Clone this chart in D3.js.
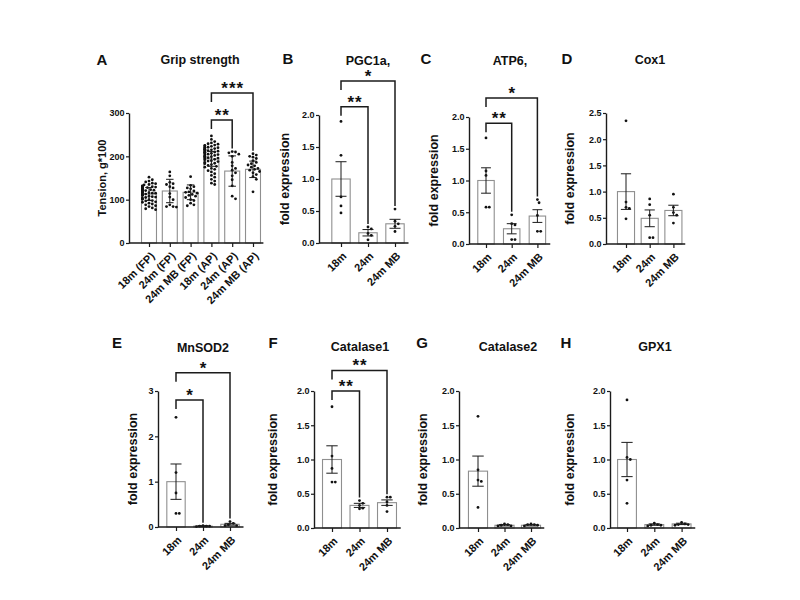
<!DOCTYPE html>
<html>
<head>
<meta charset="utf-8">
<script src="https://cdn.jsdelivr.net/npm/d3@7"></script>
<style>
  body { margin: 0; background: #fff; }
  text { font-family: Arial, "Liberation Sans", sans-serif; font-weight: bold; fill: #111; }
</style>
</head>
<body>
<svg id="fig" width="800" height="600"></svg>
<script>
// ---- data ----
const gripGroups = ["18m (FP)", "24m (FP)", "24m MB (FP)", "18m (AP)", "24m (AP)", "24m MB (AP)"];
const gripMeans = [113, 120, 117, 194, 166, 170];
const gripSD = [15, 27, 17, 17, 35, 19];
const gripPoints = [
  [152,146,143,141,138,137,135,134,132,131,130,129,128,128,127,126,125,124,124,123,122,121,121,120,119,118,118,117,116,115,115,114,113,112,111,110,110,108,107,106,105,104,102,101,100,98,97,95,94,92,90,88,86,84,81,79,77],
  [164,155,140,137,135,130,127,114,106,100,88,84,84,83],
  [153,133,130,127,125,120,118,117,115,112,110,108,105,100,98,92,88,86],
  [247,239,234,231,229,228,226,225,224,223,221,221,220,219,218,217,216,216,215,214,213,212,211,210,209,209,208,207,206,205,204,203,202,201,200,199,198,197,196,195,193,192,190,189,188,186,184,183,181,179,177,175,172,170,167,164,160,156,152,147,143,138,135],
  [211,210,208,205,200,186,178,172,168,162,155,146,132,108,102],
  [206,203,200,198,195,190,186,183,180,178,175,172,170,168,165,162,158,153,147,118]
];
const gripSig = [[3, 5, 346, "***"], [3, 4, 284, "**"]];

const ageGroups = ["18m", "24m", "24m MB"];

const pgcMeans = [1.0, 0.16, 0.30];
const pgcSem = [0.27, 0.05, 0.07];
const pgcPoints = [[1.9,1.37,0.72,0.58,0.47],[0.25,0.22,0.15,0.12,0.05],[0.53,0.34,0.3,0.26,0.18]];
const pgcSig = [[0, 2, 2.53, "*"], [0, 1, 2.13, "**"]];

const atpMeans = [1.0, 0.24, 0.44];
const atpSem = [0.2, 0.08, 0.1];
const atpPoints = [[1.67,1.15,1.08,0.58,0.58],[0.46,0.32,0.3,0.07,0.07],[0.7,0.65,0.45,0.2,0.2]];
const atpSig = [[0, 2, 2.3, "*"], [0, 1, 1.9, "**"]];

const coxMeans = [1.0, 0.49, 0.64];
const coxSem = [0.34, 0.16, 0.1];
const coxPoints = [[2.35,0.8,0.7,0.68,0.48],[0.86,0.75,0.55,0.12,0.12],[0.95,0.7,0.6,0.55,0.4]];

const sodMeans = [1.0, 0.02, 0.06];
const sodSem = [0.39, 0.01, 0.02];
const sodPoints = [[2.42,1.2,0.75,0.3,0.3],[0.03,0.02,0.02,0.01,0.02],[0.12,0.08,0.05,0.03,0.03]];
const sodSig = [[0, 2, 3.4, "*"], [0, 1, 2.8, "*"]];

const cat1Means = [1.0, 0.33, 0.37];
const cat1Sem = [0.2, 0.03, 0.04];
const cat1Points = [[1.77,1.05,0.87,0.67,0.67],[0.4,0.36,0.33,0.29,0.28],[0.45,0.45,0.38,0.33,0.24]];
const cat1Sig = [[0, 2, 2.3, "**"], [0, 1, 2.0, "**"]];

const cat2Means = [0.83, 0.04, 0.04];
const cat2Sem = [0.22, 0.01, 0.01];
const cat2Points = [[1.63,0.85,0.7,0.68,0.3],[0.06,0.05,0.04,0.03,0.03],[0.06,0.05,0.05,0.04,0.03]];

const gpxMeans = [1.0, 0.05, 0.06];
const gpxSem = [0.25, 0.01, 0.01];
const gpxPoints = [[1.87,1.03,1.0,0.7,0.36],[0.07,0.05,0.04,0.03,0.04],[0.08,0.06,0.05,0.05,0.04]];

// ---- panel layout ----
const f1 = d3.format(".1f"), f0 = d3.format("d");
const panels = [
  {letter:"A", title:"Grip strength", ylab:"Tension, g*100", cats:gripGroups, means:gripMeans, err:gripSD, pts:gripPoints, sig:gripSig,
   yMax:300, ticks:[0,100,200,300], fmt:f0, axisX:129, first:149, step:20.8, y0:243, yTop:113, labelX:102, labelSize:11,
   letterPos:[102,65], titlePos:[200,64], barFrac:0.72, capFrac:0.5},
  {letter:"B", title:"PGC1a,", ylab:"fold expression", cats:ageGroups, means:pgcMeans, err:pgcSem, pts:pgcPoints, sig:pgcSig,
   yMax:2, ticks:[0,0.5,1,1.5,2], fmt:f1, axisX:319, first:341, step:27, y0:243, yTop:115, labelX:285, labelSize:12.5,
   letterPos:[288,63.5], titlePos:[368,65], barFrac:0.68, capFrac:0.6},
  {letter:"C", title:"ATP6,", ylab:"fold expression", cats:ageGroups, means:atpMeans, err:atpSem, pts:atpPoints, sig:atpSig,
   yMax:2, ticks:[0,0.5,1,1.5,2], fmt:f1, axisX:469, first:486, step:25.7, y0:244, yTop:117, labelX:434, labelSize:12.5,
   letterPos:[426,64], titlePos:[510,65], barFrac:0.64, capFrac:0.6},
  {letter:"D", title:"Cox1", ylab:"fold expression", cats:ageGroups, means:coxMeans, err:coxSem, pts:coxPoints, sig:[],
   yMax:2.5, ticks:[0,0.5,1,1.5,2,2.5], fmt:f1, axisX:606, first:626, step:23.7, y0:244, yTop:113, labelX:570, labelSize:12.5,
   letterPos:[567,64], titlePos:[650,64], barFrac:0.72, capFrac:0.6},
  {letter:"E", title:"MnSOD2", ylab:"fold expression", cats:ageGroups, means:sodMeans, err:sodSem, pts:sodPoints, sig:sodSig,
   yMax:3, ticks:[0,1,2,3], fmt:f0, axisX:158, first:176, step:27, y0:527, yTop:391, labelX:133, labelSize:12.5,
   letterPos:[117,348], titlePos:[203,352], barFrac:0.68, capFrac:0.6},
  {letter:"F", title:"Catalase1", ylab:"fold expression", cats:ageGroups, means:cat1Means, err:cat1Sem, pts:cat1Points, sig:cat1Sig,
   yMax:2, ticks:[0,0.5,1,1.5,2], fmt:f1, axisX:314, first:332, step:27.5, y0:528, yTop:391, labelX:273, labelSize:12.5,
   letterPos:[273,348], titlePos:[360,351], barFrac:0.69, capFrac:0.6},
  {letter:"G", title:"Catalase2", ylab:"fold expression", cats:ageGroups, means:cat2Means, err:cat2Sem, pts:cat2Points, sig:[],
   yMax:2, ticks:[0,0.5,1,1.5,2], fmt:f1, axisX:459, first:478, step:26.5, y0:528, yTop:391, labelX:423, labelSize:12.5,
   letterPos:[422,348], titlePos:[508,351], barFrac:0.72, capFrac:0.6},
  {letter:"H", title:"GPX1", ylab:"fold expression", cats:ageGroups, means:gpxMeans, err:gpxSem, pts:gpxPoints, sig:[],
   yMax:2, ticks:[0,0.5,1,1.5,2], fmt:f1, axisX:610, first:627, step:27.3, y0:528, yTop:391, labelX:570, labelSize:12.5,
   letterPos:[566,348], titlePos:[655,351], barFrac:0.69, capFrac:0.6}
];

const svg = d3.select("#fig");
const ink = "#1b1b1b";

// simple beeswarm so equal values sit side by side
function swarm(vals, y, r, maxOff) {
  const d = 2 * r + 0.5;
  const placed = [];
  const out = new Array(vals.length);
  vals.map((v, i) => ({ i, py: y(v) }))
    .sort((a, b) => a.py - b.py)
    .forEach(o => {
      let pick = 0;
      for (let k = 0; k < 30; k++) {
        const off = (k % 2 ? 1 : -1) * Math.ceil(k / 2) * d * 0.5;
        if (Math.abs(off) > maxOff) break;
        pick = off;
        if (placed.every(p => (p.x - off) ** 2 + (p.y - o.py) ** 2 >= d * d)) break;
      }
      placed.push({ x: pick, y: o.py });
      out[o.i] = { dx: pick, py: o.py };
    });
  return out;
}

function drawPanel(p) {
  const g = svg.append("g").attr("class", "panel");
  const y = d3.scaleLinear().domain([0, p.yMax]).range([p.y0, p.yTop]);
  const x = d3.scalePoint().domain(p.cats)
    .range([p.first, p.first + p.step * (p.cats.length - 1)]);
  const bw = p.step * p.barFrac;
  const cap = bw * p.capFrac;

  // bars
  g.selectAll(".bar").data(p.means).join("rect")
    .attr("class", "bar")
    .attr("x", (d, i) => x(p.cats[i]) - bw / 2)
    .attr("y", d => y(d))
    .attr("width", bw)
    .attr("height", d => y(0) - y(d))
    .attr("fill", "#fff")
    .attr("stroke", "#8f8f8f")
    .attr("stroke-width", 1.1);

  // dots
  p.pts.forEach((vals, i) => {
    const pos = swarm(vals, y, 1.4, bw / 2 + 0.5);
    g.append("g").selectAll("circle").data(pos).join("circle")
      .attr("cx", d => x(p.cats[i]) + d.dx)
      .attr("cy", d => d.py)
      .attr("r", 1.4)
      .attr("fill", "#111");
  });

  // error bars
  const eb = g.selectAll(".err").data(p.means).join("g").attr("class", "err")
    .attr("stroke", ink).attr("stroke-width", 1);
  eb.append("line")
    .attr("x1", (d, i) => x(p.cats[i])).attr("x2", (d, i) => x(p.cats[i]))
    .attr("y1", (d, i) => y(Math.max(0, d - p.err[i]))).attr("y2", (d, i) => y(d + p.err[i]));
  eb.append("line")
    .attr("x1", (d, i) => x(p.cats[i]) - cap / 2).attr("x2", (d, i) => x(p.cats[i]) + cap / 2)
    .attr("y1", (d, i) => y(d + p.err[i])).attr("y2", (d, i) => y(d + p.err[i]));
  eb.append("line")
    .attr("x1", (d, i) => x(p.cats[i]) - cap / 2).attr("x2", (d, i) => x(p.cats[i]) + cap / 2)
    .attr("y1", (d, i) => y(Math.max(0, d - p.err[i]))).attr("y2", (d, i) => y(Math.max(0, d - p.err[i])));

  // y axis
  const ya = g.append("g").attr("transform", `translate(${p.axisX},0)`)
    .call(d3.axisLeft(y).tickValues(p.ticks).tickFormat(p.fmt).tickSize(3).tickSizeOuter(0).tickPadding(1.5));
  ya.select(".domain").attr("stroke", ink).attr("stroke-width", 1.4);
  ya.selectAll(".tick line").attr("stroke", ink).attr("stroke-width", 1.2);
  ya.selectAll(".tick text").attr("font-size", 9).style("font-family", "Arial, 'Liberation Sans', sans-serif").style("font-weight", "bold").attr("fill", "#111");

  // x axis
  const xa = g.append("g").attr("transform", `translate(0,${p.y0})`)
    .call(d3.axisBottom(x).tickSize(4).tickSizeOuter(0));
  xa.select(".domain").remove();
  xa.append("line")
    .attr("x1", p.axisX).attr("x2", x(p.cats[p.cats.length - 1]) + p.step / 2)
    .attr("stroke", ink).attr("stroke-width", 1.4);
  xa.selectAll(".tick line").attr("stroke", ink).attr("stroke-width", 1.2);
  xa.selectAll(".tick text")
    .attr("font-size", 11).style("font-family", "Arial, 'Liberation Sans', sans-serif").style("font-weight", "bold").attr("fill", "#111")
    .attr("text-anchor", "end")
    .attr("x", 0).attr("y", 0).attr("dy", "0.35em")
    .attr("transform", "translate(3,11) rotate(-45)");

  // y label
  g.append("text")
    .attr("transform", `translate(${p.labelX},${(p.y0 + p.yTop) / 2}) rotate(-90)`)
    .attr("text-anchor", "middle").attr("dy", "0.35em")
    .attr("font-size", p.labelSize)
    .text(p.ylab);

  // title and panel letter
  g.append("text").attr("x", p.titlePos[0]).attr("y", p.titlePos[1])
    .attr("text-anchor", "middle").attr("font-size", 12.5).text(p.title);
  g.append("text").attr("x", p.letterPos[0]).attr("y", p.letterPos[1])
    .attr("text-anchor", "middle").attr("font-size", 15).text(p.letter);

  // significance brackets
  p.sig.forEach(([a, b, h, lab]) => {
    const xa1 = x(p.cats[a]), xb = x(p.cats[b]);
    const top = y(h);
    const rightEnd = y(d3.max(p.pts[b])) - 3;
    g.append("path")
      .attr("d", `M${xa1},${top + 9}V${top}H${xb}V${rightEnd}`)
      .attr("fill", "none").attr("stroke", ink).attr("stroke-width", 1.5);
    g.append("text").attr("x", (xa1 + xb) / 2 + 0.5).attr("y", top + 1)
      .attr("text-anchor", "middle").attr("font-size", 17)
      .attr("letter-spacing", 1).text(lab);
  });
}

panels.forEach(drawPanel);
</script>
</body>
</html>
